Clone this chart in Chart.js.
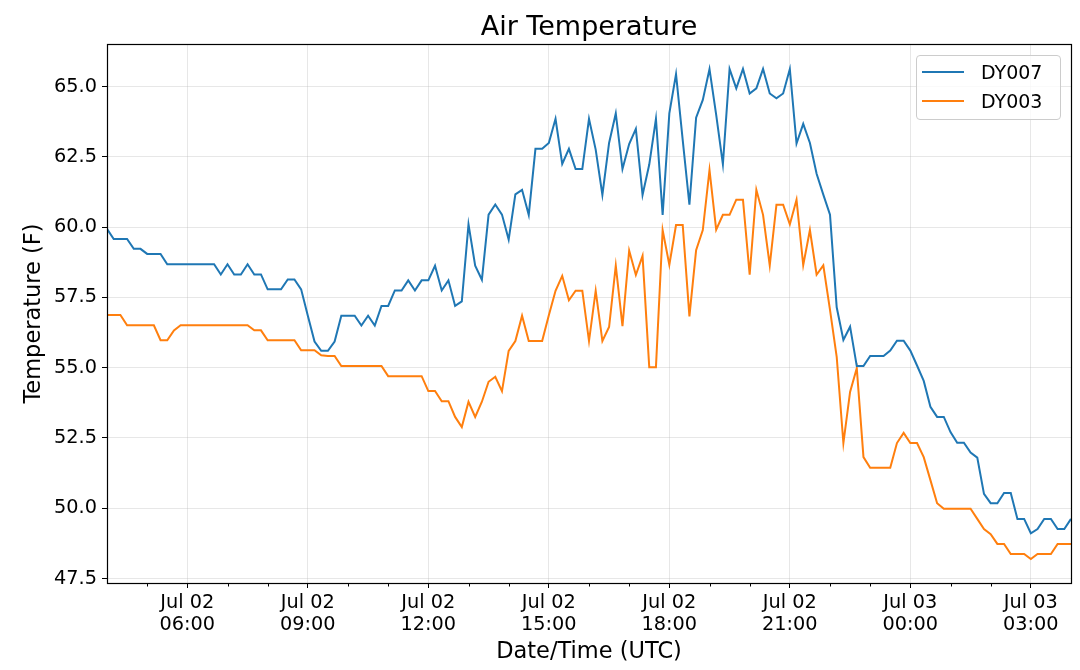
<!DOCTYPE html>
<html><head><meta charset="utf-8">
<script src="https://cdn.jsdelivr.net/npm/chart.js@4"></script>
<style>
html,body{margin:0;padding:0;background:#fff;}
#wrap{position:relative;width:1080px;height:670px;}
#legend{position:absolute;left:916px;top:55px;width:143px;height:63px;border:1px solid #cccccc;border-radius:4px;background:rgba(255,255,255,0.8);font-family:"DejaVu Sans";font-size:19px;color:#000;}
.row{position:absolute;left:0;width:143px;height:24px;line-height:24px;}
.sw{position:absolute;left:5px;top:11px;width:42px;height:2px;}
.lb{position:absolute;left:64px;top:0;white-space:nowrap;}
</style></head>
<body><div id="wrap"><canvas id="c" width="1080" height="670"></canvas><div id="legend"></div></div>
<script>
// ---- data ----
const seriesNames = ["DY007", "DY003"];
const seriesColors = ["#1f77b4", "#ff7f0e"];
const startHour = 4;          // Jul 02 04:00 UTC
const stepMinutes = 10;

const dy007 = [59.94, 59.58, 59.58, 59.58, 59.23, 59.23, 59.05, 59.05, 59.05, 58.68,
 58.68, 58.68, 58.68, 58.68, 58.68, 58.68, 58.68, 58.32, 58.68, 58.32,
 58.32, 58.68, 58.32, 58.32, 57.79, 57.79, 57.79, 58.14, 58.14, 57.79,
 56.85, 55.93, 55.60, 55.60, 55.93, 56.85, 56.85, 56.85, 56.50, 56.85,
 56.50, 57.20, 57.20, 57.75, 57.75, 58.11, 57.75, 58.11, 58.11, 58.63,
 57.75, 58.11, 57.20, 57.36, 60.10, 58.63, 58.13, 60.45, 60.81, 60.45,
 59.56, 61.17, 61.33, 60.44, 62.79, 62.79, 63.00, 63.86, 62.25, 62.79,
 62.07, 62.07, 63.86, 62.76, 61.15, 63.00, 64.05, 62.07, 62.96, 63.50,
 61.15, 62.23, 63.86, 60.44, 64.05, 65.45, 63.10, 60.80, 63.90, 64.53,
 65.63, 64.00, 62.24, 65.63, 64.94, 65.63, 64.76, 64.94, 65.63, 64.76,
 64.59, 64.76, 65.63, 62.98, 63.68, 63.00, 61.90, 61.16, 60.45, 57.15,
 55.99, 56.46, 55.06, 55.06, 55.42, 55.42, 55.42, 55.61, 55.96, 55.96,
 55.61, 55.08, 54.53, 53.61, 53.25, 53.25, 52.71, 52.33, 52.33, 51.98,
 51.80, 50.51, 50.18, 50.18, 50.54, 50.54, 49.62, 49.62, 49.11, 49.26,
 49.62, 49.62, 49.26, 49.26, 49.62];

const dy003 = [56.88, 56.88, 56.88, 56.51, 56.51, 56.51, 56.51, 56.51, 55.98, 55.98,
 56.33, 56.51, 56.51, 56.51, 56.51, 56.51, 56.51, 56.51, 56.51, 56.51,
 56.51, 56.51, 56.33, 56.33, 55.98, 55.98, 55.98, 55.98, 55.98, 55.62,
 55.62, 55.62, 55.44, 55.42, 55.42, 55.06, 55.06, 55.06, 55.06, 55.06,
 55.06, 55.06, 54.70, 54.70, 54.70, 54.70, 54.70, 54.70, 54.17, 54.17,
 53.81, 53.81, 53.25, 52.89, 53.79, 53.25, 53.79, 54.50, 54.68, 54.17,
 55.60, 55.95, 56.85, 55.95, 55.95, 55.95, 56.87, 57.74, 58.27, 57.40,
 57.74, 57.74, 55.95, 57.74, 55.95, 56.45, 58.63, 56.48, 59.17, 58.30,
 58.98, 55.02, 55.02, 59.90, 58.66, 60.08, 60.08, 56.83, 59.18, 59.90,
 62.04, 59.91, 60.44, 60.44, 60.98, 60.98, 58.31, 61.33, 60.44, 58.64,
 60.80, 60.80, 60.10, 60.98, 58.65, 59.90, 58.31, 58.64, 57.06, 55.39,
 52.32, 54.14, 54.98, 51.82, 51.44, 51.44, 51.44, 51.44, 52.32, 52.68,
 52.32, 52.32, 51.82, 51.00, 50.18, 49.98, 49.98, 49.98, 49.98, 49.98,
 49.62, 49.26, 49.08, 48.73, 48.73, 48.37, 48.37, 48.37, 48.19, 48.37,
 48.37, 48.37, 48.73, 48.73, 48.73];

// time axis (hours since Jul 02 00:00 UTC)
const times = dy007.map((_, i) => startHour + i * stepMinutes / 60);
const xTicks = [6, 9, 12, 15, 18, 21, 24, 27];
const xTickLabels = [["Jul 02","06:00"],["Jul 02","09:00"],["Jul 02","12:00"],["Jul 02","15:00"],
                     ["Jul 02","18:00"],["Jul 02","21:00"],["Jul 03","00:00"],["Jul 03","03:00"]];
const xMinorTicks = [5, 7, 8, 10, 11, 13, 14, 16, 17, 19, 20, 22, 23, 25, 26];
const yTicks = [47.5, 50.0, 52.5, 55.0, 57.5, 60.0, 62.5, 65.0];

// ---- chart ----
const FONT = "DejaVu Sans";
Chart.defaults.font.family = FONT;
Chart.defaults.color = "#000";

const framePlugin = {
  id: 'frame',
  afterDraw(chart) {
    const {ctx, chartArea: a, scales: {x}} = chart;
    ctx.save();
    ctx.strokeStyle = '#000';
    ctx.lineWidth = 1;
    ctx.beginPath();
    xMinorTicks.forEach(h => {
      const px = Math.round(x.getPixelForValue(h)) + 0.5;
      ctx.moveTo(px, a.bottom); ctx.lineTo(px, a.bottom + 3.5);
    });
    ctx.stroke();
    ctx.lineWidth = 1.2;
    ctx.strokeRect(a.left + 0.5, a.top + 0.5, a.right - a.left, a.bottom - a.top);
    ctx.restore();
  }
};

const seriesValues = [dy007, dy003];
const datasets = seriesValues.map((vals, k) => ({
  label: seriesNames[k],
  data: vals.map((v, i) => ({x: times[i], y: v})),
  borderColor: seriesColors[k],
  backgroundColor: seriesColors[k],
  borderWidth: 2,
  pointRadius: 0,
  tension: 0,
  fill: false
}));

const gridColor = 'rgba(176,176,176,0.3)';

new Chart(document.getElementById('c'), {
  type: 'line',
  data: { datasets },
  plugins: [framePlugin],
  options: {
    responsive: false,
    animation: false,
    layout: { padding: { left: 0, right: 9, top: 0, bottom: 0 } },
    plugins: {
      legend: { display: false },
      tooltip: { enabled: false },
      title: {
        display: true,
        text: 'Air Temperature',
        fullSize: false,
        color: '#000',
        font: { family: FONT, size: 27, weight: 'normal', lineHeight: 1.185 },
        padding: { top: 12, bottom: 0 }
      }
    },
    scales: {
      x: {
        type: 'linear',
        min: 4, max: 28,
        afterFit(s) { s.height = 87; },
        afterBuildTicks(s) { s.ticks = xTicks.map(v => ({value: v})); },
        border: { display: false },
        grid: { color: gridColor, lineWidth: 1, tickColor: '#000', tickLength: 5, tickWidth: 1 },
        ticks: {
          autoSkip: false, maxRotation: 0, minRotation: 0, padding: 3.5,
          color: '#000',
          font: { family: FONT, size: 19.3, lineHeight: 1.16 },
          callback: (v) => { const k = xTicks.indexOf(v); return k >= 0 ? xTickLabels[k] : ''; }
        },
        title: {
          display: true, text: 'Date/Time (UTC)', color: '#000',
          font: { family: FONT, size: 22.5, lineHeight: 1.2 },
          padding: { top: 0, bottom: 4.5 }
        }
      },
      y: {
        type: 'linear',
        min: 47.34, max: 66.52,
        afterFit(s) { s.width = 107; },
        afterBuildTicks(s) { s.ticks = yTicks.map(v => ({value: v})); },
        border: { display: false },
        grid: { color: gridColor, lineWidth: 1, tickColor: '#000', tickLength: 5, tickWidth: 1 },
        ticks: {
          padding: 5, color: '#000',
          font: { family: FONT, size: 19.3 },
          callback: (v) => Number(v).toFixed(1)
        },
        title: {
          display: true, text: 'Temperature (F)', color: '#000',
          font: { family: FONT, size: 22.5, lineHeight: 1.2 },
          padding: { top: 21, bottom: 0 }
        }
      }
    }
  }
});

// legend (HTML, built from the series arrays)
const legend = document.getElementById('legend');
const rowTops = [4.2, 32.5];
seriesNames.forEach((name, k) => {
  const row = document.createElement('div');
  row.className = 'row';
  row.style.top = rowTops[k] + 'px';
  const sw = document.createElement('div');
  sw.className = 'sw';
  sw.style.background = seriesColors[k];
  const lb = document.createElement('div');
  lb.className = 'lb';
  lb.textContent = name;
  row.appendChild(sw); row.appendChild(lb);
  legend.appendChild(row);
});
</script></body></html>
